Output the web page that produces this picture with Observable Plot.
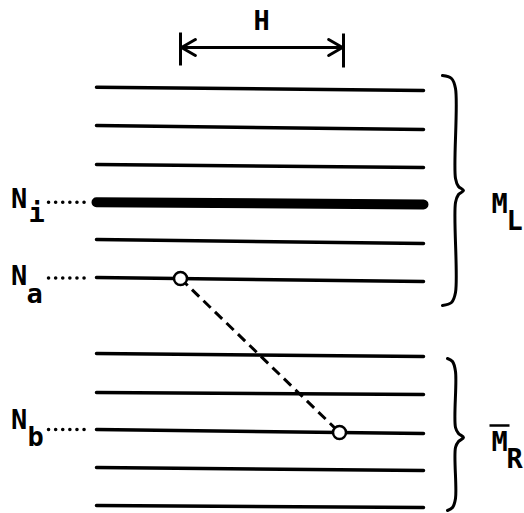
<!DOCTYPE html>
<html>
<head>
<meta charset="utf-8">
<script src="https://cdn.jsdelivr.net/npm/d3@7"></script>
<script src="https://cdn.jsdelivr.net/npm/@observablehq/plot@0.6"></script>
<style>
  html, body { margin: 0; padding: 0; background: #fff; }
  #chart svg { display: block; }
</style>
</head>
<body>
<div id="chart"></div>
<script>
// ---- diagram data (pixel-space units of a 524 x 513 canvas) ----
const layerNames   = ["L1","L2","L3","Ni","L5","Na","R1","R2","Nb","R4","R5"];
const layerLeftY   = [86.7, 125, 164, 201.7, 239, 277, 353, 392, 429, 467, 505];
const layerRightY  = [90, 129, 167, 204, 243, 281, 356, 394, 433, 470, 507];
const layerX       = [96, 423];
const thickLayer   = "Ni";

const leaderNames  = ["Ni", "Na", "Nb"];
const leaderY      = [201.7, 277.5, 429];
const leaderX      = [48, 88];

const nodeNames    = ["Na", "Nb"];
const nodeX        = [180, 339];
const nodeY        = [278, 432];

const hBarX        = [180, 343];
const hBarTop      = [32, 33];
const hBarBottom   = [65, 67];
const hArrowY      = 47;

const braceL = [[442,75],[451,78],[455,88],[455,178],[458,186],[463,190],[458,194],[455,202],[455,292],[451,302],[442,305]];
const braceR = [[447,358],[452,361],[455,371],[455,427],[458,433],[463,437],[458,441],[455,447],[455,498],[452,507],[447,510]];

const mainLabels = ["H", "N", "N", "N", "M", "M"];
const mainX      = [261, 18.5, 18.5, 18.5, 499, 499];
const mainY      = [29, 207, 284, 428, 212, 450];
const subLabels  = ["i", "a", "b", "L", "R"];
const subX       = [36, 34, 35, 514, 514];
const subY       = [221, 302, 445, 229, 467];
const overbarX   = [489, 509];
const overbarY   = 425;

// ---- build tables ----
const layers = layerNames.map((n, i) => ({n, x1: layerX[0], x2: layerX[1], y1: layerLeftY[i], y2: layerRightY[i]}));
const leaders = leaderNames.map((n, i) => ({n, x1: leaderX[0], x2: leaderX[1], y: leaderY[i]}));
const nodes = nodeNames.map((n, i) => ({n, x: nodeX[i], y: nodeY[i]}));
const bars = hBarX.map((x, i) => ({x, y1: hBarTop[i], y2: hBarBottom[i]}));
const hMid = (hBarX[0] + hBarX[1]) / 2;
const arrows = [{x1: hMid, x2: hBarX[0] + 1, y: hArrowY}, {x1: hMid, x2: hBarX[1] - 1, y: hArrowY}];
const mains = mainLabels.map((t, i) => ({t, x: mainX[i], y: mainY[i]}));
const subs = subLabels.map((t, i) => ({t, x: subX[i], y: subY[i]}));

const font = "DejaVu Sans Mono";

const chart = Plot.plot({
  width: 524,
  height: 513,
  margin: 0,
  x: {domain: [0, 524], range: [0, 524], axis: null},
  y: {domain: [0, 513], range: [0, 513], axis: null},
  style: {background: "#fff"},
  marks: [
    // layers
    Plot.link(layers.filter(d => d.n !== thickLayer), {x1: "x1", x2: "x2", y1: "y1", y2: "y2",
      stroke: "#000", strokeWidth: 3.5, strokeLinecap: "round"}),
    Plot.link(layers.filter(d => d.n === thickLayer), {x1: "x1", x2: "x2", y1: "y1", y2: "y2",
      stroke: "#000", strokeWidth: 10, strokeLinecap: "round"}),
    // dotted leaders
    Plot.link(leaders, {x1: "x1", x2: "x2", y1: "y", y2: "y",
      stroke: "#000", strokeWidth: 3.5, strokeLinecap: "round", strokeDasharray: "0.1,7"}),
    // dashed connector
    Plot.link([{x1: nodeX[0], y1: nodeY[0], x2: nodeX[1], y2: nodeY[1]}], {x1: "x1", y1: "y1", x2: "x2", y2: "y2",
      stroke: "#000", strokeWidth: 3, strokeDasharray: "10,6"}),
    // nodes
    Plot.dot(nodes, {x: "x", y: "y", r: 6.5, fill: "#fff", stroke: "#000", strokeWidth: 2.5}),
    // H dimension
    Plot.link(bars, {x1: "x", x2: "x", y1: "y1", y2: "y2", stroke: "#000", strokeWidth: 3}),
    Plot.arrow(arrows, {x1: "x1", x2: "x2", y1: "y", y2: "y", stroke: "#000", strokeWidth: 3,
      headLength: 8, headAngle: 60, bend: 0}),
    // braces
    Plot.line(braceL, {x: d => d[0], y: d => d[1], curve: "catmull-rom", stroke: "#000", strokeWidth: 3, strokeLinecap: "round"}),
    Plot.line(braceR, {x: d => d[0], y: d => d[1], curve: "catmull-rom", stroke: "#000", strokeWidth: 3, strokeLinecap: "round"}),
    // overbar for M_R
    Plot.link([{x1: overbarX[0], x2: overbarX[1], y: overbarY}], {x1: "x1", x2: "x2", y1: "y", y2: "y", stroke: "#000", strokeWidth: 2.5}),
    // labels
    Plot.text(mains, {x: "x", y: "y", text: "t", textAnchor: "middle", lineAnchor: "bottom",
      fontFamily: font, fontSize: 27, fontWeight: "bold", fill: "#000"}),
    Plot.text(subs, {x: "x", y: "y", text: "t", textAnchor: "middle", lineAnchor: "bottom",
      fontFamily: font, fontSize: 27, fontWeight: "bold", fill: "#000"})
  ]
});
document.getElementById("chart").appendChild(chart);
</script>
</body>
</html>
